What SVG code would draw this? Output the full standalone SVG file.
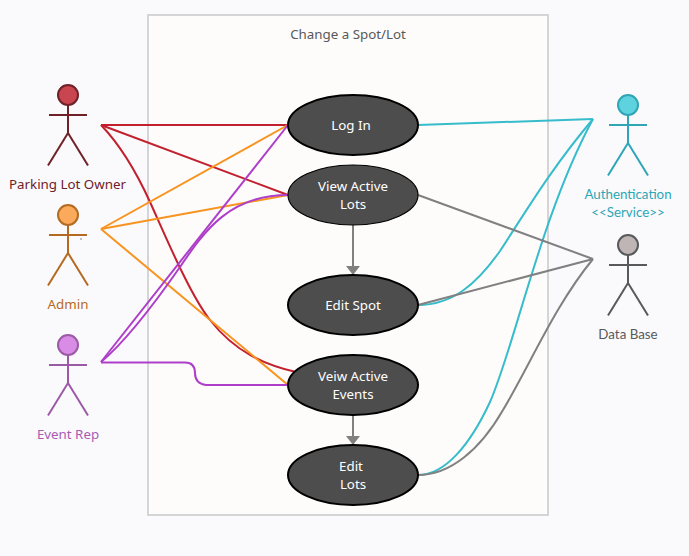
<svg xmlns="http://www.w3.org/2000/svg" width="689" height="556" viewBox="0 0 689 556">
<style>
text{font-family:"Noto Sans","Open Sans",sans-serif;font-size:13.33px;text-anchor:middle}
.l{font-family:Lato,"Noto Sans",sans-serif;font-size:13.33px}
.c{fill:none;stroke-width:2}
.r{stroke:#c2202e}.o{stroke:#f7931e}.p{stroke:#ae3ec9}.t{stroke:#37bccb}.g{stroke:#808080}
.a line{stroke-width:2}
.u ellipse{fill:#4d4d4d;stroke:#000;stroke-width:2}
.u text{fill:#fff}
</style>
<rect width="689" height="556" fill="#fafafd"/>
<g id="boundary"><rect x="148" y="15" width="400" height="500" fill="#fdfcfb" stroke="#d5d5d8" stroke-width="2"/><text x="348" y="39" fill="#58595b">Change a Spot/Lot</text></g>
<g id="connectors">
<path class="c r" d="M101 125H288"/>
<path class="c r" d="M101 125L288 195"/>
<path class="c r" d="M101 125C125 150 140 180 150 202C165 235 190 295 210 320C235 352 265 365 296 372"/>
<path class="c o" d="M101 229L288 125"/>
<path class="c o" d="M101 229L288 195"/>
<path class="c o" d="M101 229L288 385"/>
<path class="c p" d="M101 362L288 125"/>
<path class="c p" d="M101 362C125 342 150 310 180 267C205 230 230 195 288 195"/>
<path class="c p" d="M101 362.500H185Q195 362.500 195 373T206 385H288"/>
<path class="c t" d="M418 125L593 119"/>
<path class="c t" d="M418 305C452 305 476 285 500 251C525 213 550 170 593 119"/>
<path class="c t" d="M418 475C445 475 470 445 490 402C515 345 541 215 593 119"/>
<path class="c g" d="M418 195L593 259"/>
<path class="c g" d="M418 305L593 259"/>
<path class="c g" d="M418 475C450 475 480 450 503 410C530 365 555 305 593 259"/>
<path class="c g" d="M353 225V266M353 405V436"/>
<path fill="#808080" d="M346 266H360L353 275ZM346 436H360L353 445Z"/>
</g>
<g id="owner" class="a"><circle cx="68" cy="95" r="10" fill="#c9454f" stroke="#6e2127" stroke-width="2"/><line x1="68" y1="105" x2="68" y2="133" stroke="#6e2127"/><line x1="49" y1="115" x2="87" y2="115" stroke="#6e2127"/><line x1="68" y1="133" x2="48" y2="165.500" stroke="#6e2127"/><line x1="68" y1="133" x2="88" y2="165.500" stroke="#6e2127"/><text x="67.500" y="189" fill="#6e2127">Parking Lot Owner</text></g>
<g id="admin" class="a"><circle cx="68" cy="215" r="10" fill="#fbaa5c" stroke="#b46a20" stroke-width="2"/><line x1="68" y1="225" x2="68" y2="253" stroke="#b46a20"/><line x1="49" y1="235" x2="87" y2="235" stroke="#b46a20"/><line x1="68" y1="253" x2="48" y2="285.500" stroke="#b46a20"/><line x1="68" y1="253" x2="88" y2="285.500" stroke="#b46a20"/><circle cx="81" cy="239" r=".8" fill="#777"/><text x="68" y="309" fill="#b46a20">Admin</text></g>
<g id="eventrep" class="a"><circle cx="68" cy="345" r="10" fill="#d98ce6" stroke="#9c5aa6" stroke-width="2"/><line x1="68" y1="355" x2="68" y2="383" stroke="#9c5aa6"/><line x1="49" y1="365" x2="87" y2="365" stroke="#9c5aa6"/><line x1="68" y1="383" x2="48" y2="415.500" stroke="#9c5aa6"/><line x1="68" y1="383" x2="88" y2="415.500" stroke="#9c5aa6"/><text x="68" y="439" fill="#a85cb4">Event Rep</text></g>
<g id="auth" class="a"><circle cx="628" cy="105" r="10" fill="#5fd2e0" stroke="#2ea6b5" stroke-width="2"/><line x1="628" y1="115" x2="628" y2="143" stroke="#2ea6b5"/><line x1="609" y1="125" x2="647" y2="125" stroke="#2ea6b5"/><line x1="628" y1="143" x2="608" y2="175.500" stroke="#2ea6b5"/><line x1="628" y1="143" x2="648" y2="175.500" stroke="#2ea6b5"/><text class="l" x="628" y="199" fill="#2ea6b5">Authentication</text><text class="l" x="628" y="217" fill="#2ea6b5">&lt;&lt;Service&gt;&gt;</text></g>
<g id="database" class="a"><circle cx="628" cy="245" r="10" fill="#bfb5b5" stroke="#58595b" stroke-width="2"/><line x1="628" y1="255" x2="628" y2="283" stroke="#58595b"/><line x1="609" y1="265" x2="647" y2="265" stroke="#58595b"/><line x1="628" y1="283" x2="608" y2="315.500" stroke="#58595b"/><line x1="628" y1="283" x2="648" y2="315.500" stroke="#58595b"/><text class="l" x="628" y="339" fill="#58595b">Data Base</text></g>
<g id="login" class="u"><ellipse cx="353" cy="125" rx="65" ry="30"/><text x="351" y="130">Log In</text></g>
<g id="viewlots" class="u"><ellipse cx="353" cy="195" rx="65" ry="30" style="stroke-width:1.200"/><text x="353" y="191">View Active</text><text x="353" y="209">Lots</text></g>
<g id="editspot" class="u"><ellipse cx="353" cy="305" rx="65" ry="30"/><text x="353" y="310">Edit Spot</text></g>
<g id="viewevents" class="u"><ellipse cx="353" cy="385" rx="65" ry="30"/><text x="353" y="381">Veiw Active</text><text x="353" y="399">Events</text></g>
<g id="editlots" class="u"><ellipse cx="353" cy="475" rx="65" ry="30"/><text x="351" y="471">Edit</text><text x="353" y="489">Lots</text></g>
</svg>
